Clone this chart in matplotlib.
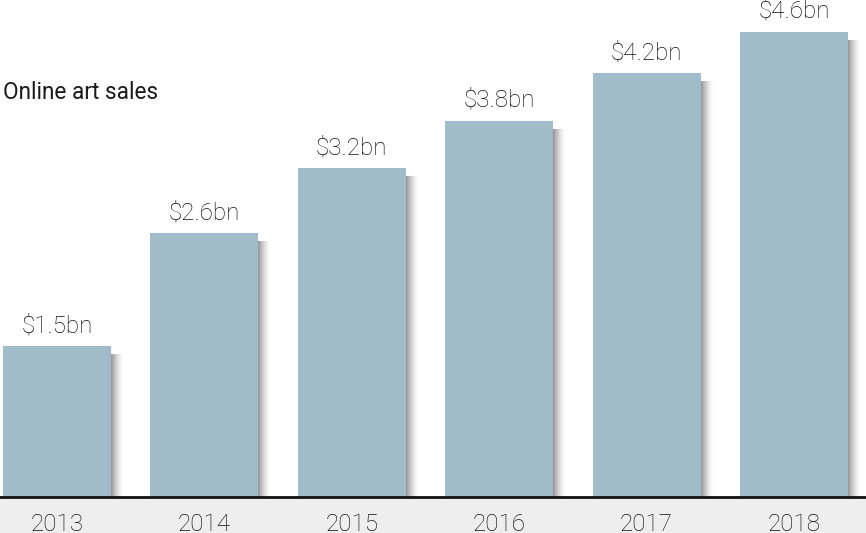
import matplotlib
matplotlib.use("Agg")
import matplotlib.pyplot as plt
from matplotlib.patches import Rectangle

years = ["2013", "2014", "2015", "2016", "2017", "2018"]
sales = [1.49, 2.61, 3.25, 3.72, 4.19, 4.6]
labels = ["$1.5bn", "$2.6bn", "$3.2bn", "$3.8bn", "$4.2bn", "$4.6bn"]

W, H = 866, 533
fig = plt.figure(figsize=(W / 100, H / 100), dpi=100)
fig.patch.set_facecolor("white")

# gray band at bottom
band = fig.add_axes([0, 0, 1, 34 / H])
band.set_facecolor("#eeeeee")
band.set_xticks([]); band.set_yticks([])
for s in band.spines.values():
    s.set_visible(False)

ax_bottom = (H - 497) / H
ax = fig.add_axes([0, ax_bottom, 1, 1 - ax_bottom])
ax.set_facecolor("none")
spacing = 147.4
x0 = -57 / spacing
ax.set_xlim(x0, x0 + W / spacing)
scale = 101.1
ax.set_ylim(0, 497 / scale)
for s in ax.spines.values():
    s.set_visible(False)
ax.set_xticks([]); ax.set_yticks([])

bw = 108 / spacing
px = 1 / spacing
py = 1 / scale
color = "#a0bccb"

for i, v in enumerate(sales):
    # shadow gradient
    n = 12
    for k in range(n):
        a = 0.6 * (1 - k / n) ** 1.5
        ax.add_patch(Rectangle((i + bw / 2 + k * px, 0), px, v - 8 * py,
                               facecolor="#555555", alpha=a, lw=0, zorder=1))
    ax.bar(i, v, width=bw, color=color, zorder=2)
    ax.text(i, v + 14 * py, labels[i], ha="center", va="baseline",
            fontsize=17.5, family="Roboto", fontweight="light", color="#111111")

ax.axhline(0, color="#111111", lw=2, zorder=3, clip_on=False)

for i, y in enumerate(years):
    xf = (i - x0) * spacing / W
    fig.text(xf, 2 / H, y, ha="center", va="baseline", fontsize=17.5,
             family="Roboto", fontweight="light", color="#111111")

fig.text(3 / W, 1 - 99 / H, "Online art sales", ha="left", va="baseline",
         fontsize=16.3, family="Roboto", color="#1a1a1a")

fig.savefig("out.png", dpi=100)
